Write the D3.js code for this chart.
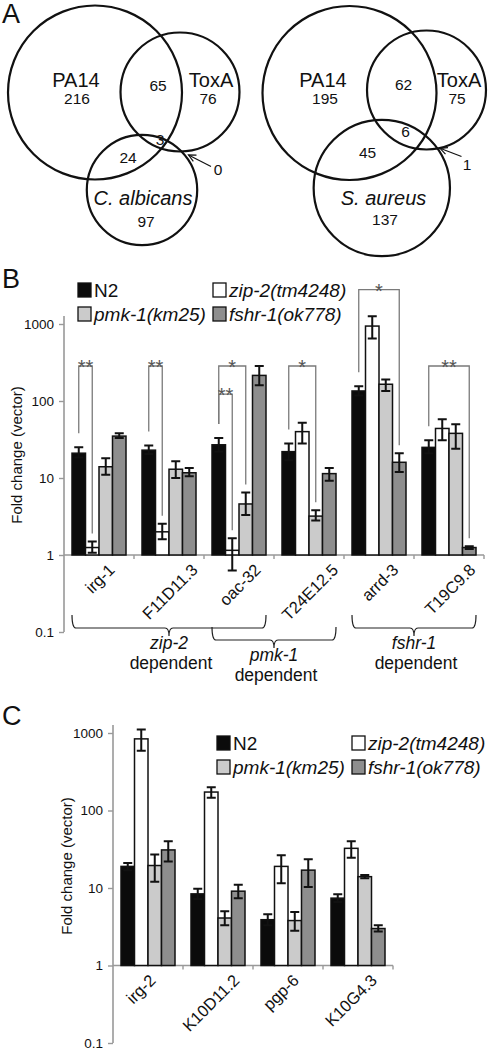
<!DOCTYPE html>
<html><head><meta charset="utf-8">
<script src="https://cdn.jsdelivr.net/npm/d3@7"></script>
<style>
body{margin:0;background:#fff}
svg{display:block}
text{font-family:"Liberation Sans",Arial,sans-serif;fill:#111}
</style>
</head><body>
<svg id="chart" width="490" height="1050"></svg>
<script>
// ---------------- DATA ----------------
// Panel A (Venn counts)
const vennSetsLeft = ["PA14", "ToxA", "C. albicans"];
const vennOnlyLeft = [216, 76, 97];
const vennPairsLeft = [65, 24, 0];      // PA14∩ToxA, PA14∩Calb, ToxA∩Calb only
const vennTripleLeft = 3;
const vennSetsRight = ["PA14", "ToxA", "S. aureus"];
const vennOnlyRight = [195, 75, 137];
const vennPairsRight = [62, 45, 1];
const vennTripleRight = 6;

// Series (legend order: N2, zip-2, pmk-1, fshr-1)
const series = ["N2", "zip-2(tm4248)", "pmk-1(km25)", "fshr-1(ok778)"];
const seriesFill = ["#0b0b0b", "#ffffff", "#cbcbcb", "#8e8e8e"];

// Panel B
const genesB = ["irg-1", "F11D11.3", "oac-32", "T24E12.5", "arrd-3", "T19C9.8"];
const n2B    = [21, 23, 27, 22, 135, 25];
const zip2B  = [1.25, 2.0, 1.15, 40, 940, 44];
const pmk1B  = [14, 13, 4.6, 3.2, 165, 38];
const fshr1B = [35, 11.7, 215, 11.4, 16, 1.25];
const n2BLo    = [18.5, 20.5, 22, 17, 118, 21];
const n2BHi    = [25, 26.5, 33, 28, 155, 31];
const zip2BLo  = [1.07, 1.6, 0.63, 28, 650, 31];
const zip2BHi  = [1.5, 2.55, 1.65, 52, 1260, 58];
const pmk1BLo  = [11, 10, 3.3, 2.8, 135, 24];
const pmk1BHi  = [18, 16.5, 6.5, 3.8, 190, 50];
const fshr1BLo = [33, 10.5, 160, 9.2, 12, 1.2];
const fshr1BHi = [38, 13.5, 285, 13.5, 21, 1.3];

// Significance brackets (panel B)
const sigGene  = ["irg-1", "F11D11.3", "oac-32", "oac-32", "T24E12.5", "arrd-3", "T19C9.8"];
const sigTo    = ["zip-2(tm4248)", "zip-2(tm4248)", "pmk-1(km25)", "zip-2(tm4248)", "pmk-1(km25)", "fshr-1(ok778)", "fshr-1(ok778)"];
const sigLevel = [285, 285, 285, 123, 285, 2800, 285];
const sigLabel = ["**", "**", "*", "**", "*", "*", "**"];

// Dependence groups (panel B)
const groupName  = ["zip-2", "pmk-1", "fshr-1"];
const groupFirst = ["irg-1", "oac-32", "arrd-3"];
const groupLast  = ["oac-32", "T24E12.5", "T19C9.8"];
const groupTier  = [0, 1, 0];

// Panel C
const genesC = ["irg-2", "K10D11.2", "pgp-6", "K10G4.3"];
const n2C    = [19, 8.4, 3.9, 7.4];
const zip2C  = [840, 173, 19, 32.5];
const pmk1C  = [19.5, 4.1, 3.8, 14];
const fshr1C = [31, 9.1, 17, 3.0];
const n2CLo    = [17, 7.2, 3.3, 6.6];
const n2CHi    = [21, 9.8, 4.6, 8.3];
const zip2CLo  = [590, 146, 11.5, 24.5];
const zip2CHi  = [1110, 199, 26.5, 40];
const pmk1CLo  = [12, 3.3, 2.8, 13.4];
const pmk1CHi  = [27, 5.0, 4.9, 14.7];
const fshr1CLo = [22, 7.4, 10.3, 2.75];
const fshr1CHi = [40, 11, 23.5, 3.3];

// Axis ticks
const yTicks = [0.1, 1, 10, 100, 1000];
const yTickLabels = ["0.1", "1", "10", "100", "1000"];
const yTitle = "Fold change (vector)";

// ---------------- DRAWING ----------------
const svg = d3.select("#chart");
const axisColor = "#999";
const bracketColor = "#7a7a7a";

function panelLabel(t, x, y) {
  svg.append("text").attr("x", x).attr("y", y).attr("font-size", 27).text(t);
}

// ---- Panel A ----
panelLabel("A", 2, 23);
const rScale = d3.scaleSqrt().domain([0, 308]).range([0, 87]);

function venn(cfg) {
  const g = svg.append("g");
  const totals = [
    cfg.only[0] + cfg.pairs[0] + cfg.pairs[1] + cfg.triple,
    cfg.only[1] + cfg.pairs[0] + cfg.pairs[2] + cfg.triple,
    cfg.only[2] + cfg.pairs[1] + cfg.pairs[2] + cfg.triple
  ];
  cfg.centers.forEach((c, i) => {
    g.append("circle").attr("cx", c[0]).attr("cy", c[1]).attr("r", rScale(totals[i]))
      .attr("fill", "none").attr("stroke", "#111").attr("stroke-width", 2.2);
  });
  const t = (x, y, s, size, italic) => g.append("text").attr("x", x).attr("y", y)
      .attr("text-anchor", "middle").attr("font-size", size)
      .attr("font-style", italic ? "italic" : "normal").text(s);
  const L = cfg.labelPos;
  t(L.n0[0], L.n0[1], cfg.sets[0], 20);
  t(L.c0[0], L.c0[1], cfg.only[0], 15.5);
  t(L.n1[0], L.n1[1], cfg.sets[1], 20);
  t(L.c1[0], L.c1[1], cfg.only[1], 15.5);
  t(L.n2[0], L.n2[1], cfg.sets[2], 20, true);
  t(L.c2[0], L.c2[1], cfg.only[2], 15.5);
  t(L.p0[0], L.p0[1], cfg.pairs[0], 15.5);
  t(L.p1[0], L.p1[1], cfg.pairs[1], 15.5);
  t(L.tr[0], L.tr[1], cfg.triple, 15.5);
  t(L.p2[0], L.p2[1], cfg.pairs[2], 15.5);
  // arrow
  const a = L.arrow;
  g.append("line").attr("x1", a[0]).attr("y1", a[1]).attr("x2", a[2]).attr("y2", a[3])
    .attr("stroke", "#111").attr("stroke-width", 1.2);
  const ang = Math.atan2(a[1] - a[3], a[0] - a[2]);
  const hl = 8, hw = 0.45;
  const p1 = [a[2] + hl * Math.cos(ang + hw), a[3] + hl * Math.sin(ang + hw)];
  const p2 = [a[2] + hl * Math.cos(ang - hw), a[3] + hl * Math.sin(ang - hw)];
  g.append("path").attr("d", `M${p1}L${a[2]},${a[3]}L${p2}`)
    .attr("fill", "none").attr("stroke", "#111").attr("stroke-width", 1.2);
}

venn({
  sets: vennSetsLeft, only: vennOnlyLeft, pairs: vennPairsLeft, triple: vennTripleLeft,
  centers: [[95, 92.5], [180, 92], [142, 190]],
  labelPos: { n0: [76, 87], c0: [77, 104], n1: [211, 87], c1: [208, 104], n2: [143, 205], c2: [146, 227],
              p0: [158, 91], p1: [128, 163], tr: [160, 145], p2: [218, 175], arrow: [211, 166.5, 188.5, 155] }
});
venn({
  sets: vennSetsRight, only: vennOnlyRight, pairs: vennPairsRight, triple: vennTripleRight,
  centers: [[349.5, 93], [426.5, 90], [381.8, 188]],
  labelPos: { n0: [323, 87], c0: [325, 104], n1: [459, 87], c1: [457, 104], n2: [383.5, 205], c2: [385, 225],
              p0: [403.5, 90], p1: [367.5, 158], tr: [405.5, 137], p2: [467, 170], arrow: [461.5, 156.5, 440, 148.3] }
});

// ---- Bar panels ----
function barPanel(cfg) {
  const g = svg.append("g");
  const y = d3.scaleLog().domain([0.1, 1000]).range(cfg.yRange);
  const x = d3.scaleBand().domain(cfg.genes).range(cfg.xRange);
  const inner = d3.scaleBand().domain(series).range([8, x.bandwidth() - 8]);
  const x0 = cfg.xRange[0];

  // y axis
  g.append("line").attr("x1", x0).attr("x2", x0).attr("y1", y(0.1)).attr("y2", y(1000) - 8)
    .attr("stroke", axisColor).attr("stroke-width", 1.6);
  const ya = g.append("g").attr("transform", `translate(${x0},0)`)
    .call(d3.axisLeft(y).tickValues(yTicks).tickFormat((d, i) => yTickLabels[i]).tickSize(5).tickPadding(5));
  ya.select(".domain").remove();
  ya.selectAll(".tick line").attr("stroke", axisColor).attr("stroke-width", 1.4);
  ya.selectAll(".tick text").attr("font-size", 13.5).attr("fill", "#111")
    .attr("font-family", "Liberation Sans, Arial, sans-serif");

  // y title
  g.append("text").attr("transform", `translate(${cfg.titleX},${cfg.titleY}) rotate(-90)`)
    .attr("text-anchor", "middle").attr("font-size", 15).text(yTitle);

  // x axis at 1
  const xAxisY = y(1);
  g.append("line").attr("x1", x0).attr("x2", cfg.xRange[1]).attr("y1", xAxisY).attr("y2", xAxisY)
    .attr("stroke", axisColor).attr("stroke-width", 1.6);
  cfg.genes.forEach((gn, i) => {
    if (i === 0) return;
    g.append("line").attr("x1", x(gn)).attr("x2", x(gn)).attr("y1", xAxisY).attr("y2", xAxisY + 4)
      .attr("stroke", axisColor).attr("stroke-width", 1.4);
  });
  g.append("line").attr("x1", cfg.xRange[1]).attr("x2", cfg.xRange[1]).attr("y1", xAxisY).attr("y2", xAxisY + 4)
    .attr("stroke", axisColor).attr("stroke-width", 1.4);

  // bars
  series.forEach((s, si) => {
    cfg.genes.forEach((gn, gi) => {
      const v = cfg.values[si][gi];
      const bx = x(gn) + inner(s);
      const bw = inner.bandwidth();
      g.append("rect").attr("x", bx).attr("y", Math.min(y(v), xAxisY))
        .attr("width", bw).attr("height", Math.abs(xAxisY - y(v)))
        .attr("fill", seriesFill[si]).attr("stroke", "#111").attr("stroke-width", 1.5);
    });
  });
  // error bars
  series.forEach((s, si) => {
    cfg.genes.forEach((gn, gi) => {
      const cx = x(gn) + inner(s) + inner.bandwidth() / 2;
      const lo = y(cfg.lo[si][gi]), hi = y(cfg.hi[si][gi]);
      const cw = 4.5;
      g.append("path").attr("d", `M${cx},${lo}V${hi}M${cx - cw},${hi}H${cx + cw}M${cx - cw},${lo}H${cx + cw}`)
        .attr("fill", "none").attr("stroke", "#111").attr("stroke-width", 2);
    });
  });

  // x labels rotated
  cfg.genes.forEach((gn) => {
    const cx = x(gn) + x.bandwidth() / 2;
    const t = g.append("text").attr("font-size", 16.5).attr("text-anchor", "end").text(gn);
    const w = t.node().getComputedTextLength();
    const ex = cx + w * 0.354 - 3 + cfg.labelShift;
    const ey = xAxisY + 16;
    t.attr("transform", `translate(${ex},${ey}) rotate(-45)`);
  });

  return { x, y, inner, g };
}

function legend(cfg) {
  const g = svg.append("g");
  series.forEach((s, i) => {
    const col = i === 0 || i === 2 ? 0 : 1;
    const row = i < 2 ? 0 : 1;
    const sx = cfg.colX[col], cy = cfg.rowY[row];
    g.append("rect").attr("x", sx).attr("y", cy - 7).attr("width", 13).attr("height", 14)
      .attr("fill", seriesFill[i]).attr("stroke", "#111").attr("stroke-width", 1.3);
    g.append("text").attr("x", sx + 16).attr("y", cy + 7).attr("font-size", 19)
      .attr("font-style", i === 0 ? "normal" : "italic").text(s);
  });
}

// Panel B
panelLabel("B", 2, 288);
const B = barPanel({
  genes: genesB,
  values: [n2B, zip2B, pmk1B, fshr1B],
  lo: [n2BLo, zip2BLo, pmk1BLo, fshr1BLo],
  hi: [n2BHi, zip2BHi, pmk1BHi, fshr1BHi],
  xRange: [64, 484], yRange: [632, 324], titleX: 22, titleY: 455, labelShift: 8
});
legend({ colX: [78, 213], rowY: [290, 314] });

// significance brackets
const hiOf = (s, gi) => [n2BHi, zip2BHi, pmk1BHi, fshr1BHi][series.indexOf(s)][gi];
sigGene.forEach((gn, k) => {
  const gi = genesB.indexOf(gn);
  const xa = B.x(gn) + B.inner("N2") + B.inner.bandwidth() / 2;
  const xb = B.x(gn) + B.inner(sigTo[k]) + B.inner.bandwidth() / 2;
  const top = B.y(sigLevel[k]);
  const ya = B.y(hiOf("N2", gi)) - 14;
  const yb = B.y(hiOf(sigTo[k], gi)) - 8;
  B.g.append("path").attr("d", `M${xa},${ya}V${top}H${xb}V${yb}`)
    .attr("fill", "none").attr("stroke", bracketColor).attr("stroke-width", 1.3);
  B.g.append("text").attr("x", (xa + xb) / 2).attr("y", top + 8).attr("text-anchor", "middle")
    .attr("font-size", 20).style("fill", "#555").text(sigLabel[k]);
});

// dependence braces
groupName.forEach((nm, k) => {
  const xs = B.x(groupFirst[k]) + 8;
  const xe = B.x(groupLast[k]) + B.x.bandwidth() - 8;
  const y0 = 615 + groupTier[k] * 12;
  const y1 = y0 + 13, y2 = y1 + 8;
  const xm = (xs + xe) / 2, r = 4;
  B.g.append("path").attr("d",
    `M${xs},${y0}Q${xs},${y1} ${xs + r},${y1}H${xm - r}Q${xm},${y1} ${xm},${y2}Q${xm},${y1} ${xm + r},${y1}H${xe - r}Q${xe},${y1} ${xe},${y0}`)
    .attr("fill", "none").attr("stroke", "#222").attr("stroke-width", 1.2);
  B.g.append("text").attr("x", xm).attr("y", y2 + 13).attr("text-anchor", "middle")
    .attr("font-size", 17.5).attr("font-style", "italic").text(nm);
  B.g.append("text").attr("x", xm + 2).attr("y", y2 + 33).attr("text-anchor", "middle")
    .attr("font-size", 17.5).text("dependent");
});

// Panel C
panelLabel("C", 2, 725);
barPanel({
  genes: genesC,
  values: [n2C, zip2C, pmk1C, fshr1C],
  lo: [n2CLo, zip2CLo, pmk1CLo, fshr1CLo],
  hi: [n2CHi, zip2CHi, pmk1CHi, fshr1CHi],
  xRange: [113, 393], yRange: [1043, 733], titleX: 72, titleY: 866, labelShift: 0
});
legend({ colX: [217, 352], rowY: [743, 767] });
</script>
</body></html>
